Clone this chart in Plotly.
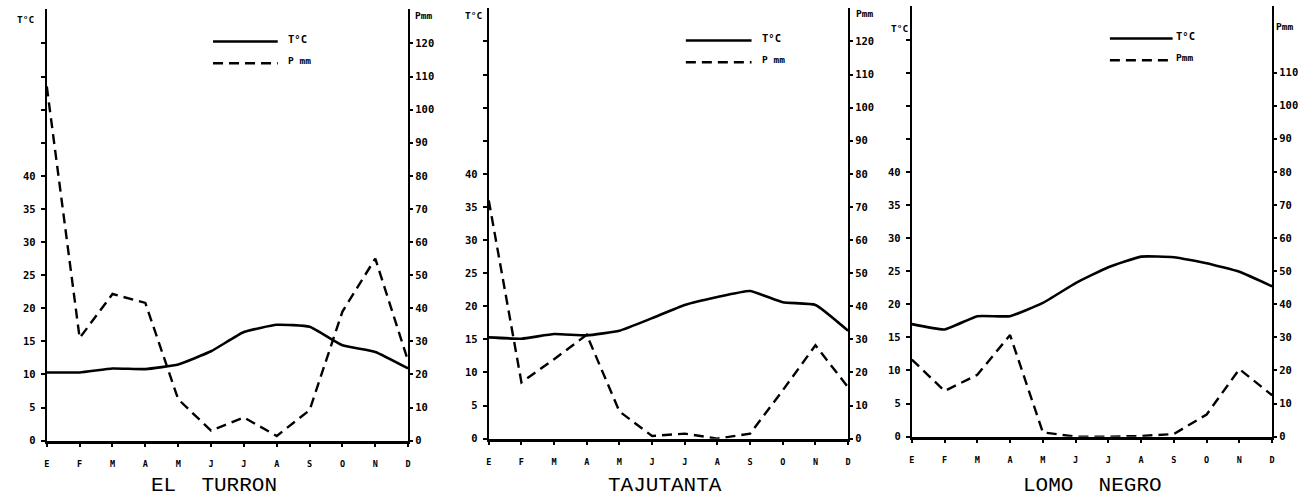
import plotly.graph_objects as go

W, H = 1309, 496

months = ["E", "F", "M", "A", "M", "J", "J", "A", "S", "O", "N", "D"]
stations = ["EL  TURRON", "TAJUTANTA", "LOMO  NEGRO"]

turron_temp = [10.3, 10.3, 10.9, 10.8, 11.5, 13.5, 16.4, 17.5, 17.2, 14.4, 13.4, 10.9]
turron_prec = [107, 31, 44.3, 41.6, 12.5, 3, 7, 1.4, 9.2, 39, 55, 24]

tajutanta_temp = [15.3, 15.1, 15.8, 15.6, 16.3, 18.2, 20.2, 21.4, 22.3, 20.6, 20.2, 16.3]
tajutanta_prec = [72, 17, 24, 31.4, 8.2, 0.8, 1.5, 0, 1.5, 14.6, 28.2, 15.5]

lomo_temp = [17.0, 16.2, 18.2, 18.2, 20.2, 23.2, 25.6, 27.2, 27.1, 26.2, 24.9, 22.7]
lomo_prec = [23.3, 13.8, 18.7, 30.7, 1.3, 0, 0, 0.2, 0.8, 6.7, 20.4, 12.5]

temps = [turron_temp, tajutanta_temp, lomo_temp]
precs = [turron_prec, tajutanta_prec, lomo_prec]

temp_ticks = [0, 5, 10, 15, 20, 25, 30, 35, 40, 45, 50, 55, 60]
temp_labels = ["0", "5", "10", "15", "20", "25", "30", "35", "40", "", "", "", ""]
prec_ticks_list = [list(range(0, 121, 10)), list(range(0, 121, 10)), list(range(0, 111, 10))]

# pixel geometry of each panel: left axis x, right axis x, zero y, top y
geom = [
    dict(xl=44, xr=407, y0=446, yt=9),
    dict(xl=488, xr=849, y0=444, yt=8),
    dict(xl=913, xr=1275, y0=442, yt=6),
]
px_per_deg = 6.7

title_cx = [212, 665, 1095]
tc_pos = [(23, 20), (473, 16), (901, 29)]
pmm_pos = [(412, 16), (855, 14), (1277, 27)]
leg = [
    dict(x0=211, x1=276, ys=42, yd=64, tx=284, lab="P mm"),
    dict(x0=686, x1=752, ys=41, yd=63, tx=760, lab="P mm"),
    dict(x0=1112, x1=1175, ys=39, yd=61, tx=1176, lab="Pmm"),
]


def fx(px):
    return px / W


def fy(py):
    return 1 - py / H


TICKFONT = dict(family="DejaVu Sans Mono", size=10.5, color="black", weight="bold")
MONTHFONT = dict(family="DejaVu Sans Mono", size=8.5, color="black", weight="bold")

fig = go.Figure()
layout = dict(
    width=W, height=H,
    margin=dict(l=0, r=0, t=0, b=0),
    paper_bgcolor="white", plot_bgcolor="white",
    showlegend=False,
)
annotations = []
shapes = []

for i in range(3):
    g = geom[i]
    n = i + 1
    xa = "x" if n == 1 else f"x{n}"
    ya = "y" if n == 1 else f"y{n}"
    yp = f"y{n + 3}"
    tmax = (g["y0"] - g["yt"]) / px_per_deg
    xs = list(range(12))

    fig.add_trace(go.Scatter(x=xs, y=temps[i], mode="lines", xaxis=xa, yaxis=ya,
                             line=dict(color="black", width=2.6, shape="spline", smoothing=0.4),
                             name="T°C", cliponaxis=False))
    fig.add_trace(go.Scatter(x=xs, y=precs[i], mode="lines", xaxis=xa, yaxis=yp,
                             line=dict(color="black", width=2.4, dash="10px,6px"),
                             name="P mm", cliponaxis=False))

    dom_x = [fx(g["xl"]), fx(g["xr"])]
    dom_y = [fy(g["y0"]), fy(g["yt"])]
    layout["xaxis" if n == 1 else f"xaxis{n}"] = dict(
        domain=dom_x, range=[0, 11], anchor=ya,
        tickvals=xs, ticktext=months, tickfont=MONTHFONT,
        ticks="outside", ticklen=4, tickwidth=1.5, tickcolor="black",
        ticklabelstandoff=9,
        showline=True, linecolor="black", linewidth=2.5,
        showgrid=False, zeroline=False, fixedrange=True,
    )
    layout["yaxis" if n == 1 else f"yaxis{n}"] = dict(
        domain=dom_y, range=[0, tmax], anchor=xa,
        tickvals=temp_ticks, ticktext=temp_labels, tickfont=TICKFONT,
        ticks="outside", ticklen=4, tickwidth=1.5, tickcolor="black",
        ticklabelstandoff=3,
        showline=True, linecolor="black", linewidth=2,
        showgrid=False, zeroline=False, fixedrange=True,
    )
    pt = prec_ticks_list[i]
    layout[f"yaxis{n + 3}"] = dict(
        overlaying=ya, side="right", anchor=xa,
        range=[0, 2 * tmax],
        tickvals=pt, ticktext=[str(v) for v in pt], tickfont=TICKFONT,
        ticks="outside", ticklen=3, tickwidth=1.5, tickcolor="black",
        ticklabelstandoff=0,
        showline=True, linecolor="black", linewidth=2,
        showgrid=False, zeroline=False, fixedrange=True,
    )

    # station title
    annotations.append(dict(text=stations[i], x=fx(title_cx[i]), y=fy(491), xref="paper", yref="paper",
                            showarrow=False, xanchor="center", yanchor="middle",
                            font=dict(family="Liberation Mono", size=21, color="black")))
    # axis titles
    annotations.append(dict(text="T°C", x=fx(tc_pos[i][0]), y=fy(tc_pos[i][1]), xref="paper", yref="paper",
                            showarrow=False, xanchor="center", yanchor="middle",
                            font=dict(family="DejaVu Sans Mono", size=9.5, color="black", weight="bold")))
    annotations.append(dict(text="Pmm", x=fx(pmm_pos[i][0]), y=fy(pmm_pos[i][1]), xref="paper", yref="paper",
                            showarrow=False, xanchor="left", yanchor="middle",
                            font=dict(family="DejaVu Sans Mono", size=9.5, color="black", weight="bold")))
    # legend
    L = leg[i]
    shapes.append(dict(type="line", xref="paper", yref="paper",
                       x0=fx(L["x0"]), x1=fx(L["x1"]), y0=fy(L["ys"]), y1=fy(L["ys"]),
                       line=dict(color="black", width=2.6)))
    shapes.append(dict(type="line", xref="paper", yref="paper",
                       x0=fx(L["x0"]), x1=fx(L["x1"]), y0=fy(L["yd"]), y1=fy(L["yd"]),
                       line=dict(color="black", width=2.6, dash="10px,6px")))
    annotations.append(dict(text="T°C", x=fx(L["tx"]), y=fy(L["ys"] - 3), xref="paper", yref="paper",
                            showarrow=False, xanchor="left", yanchor="middle",
                            font=dict(family="DejaVu Sans Mono", size=10.5, color="black", weight="bold")))
    annotations.append(dict(text=L["lab"], x=fx(L["tx"]), y=fy(L["yd"] - 3), xref="paper", yref="paper",
                            showarrow=False, xanchor="left", yanchor="middle",
                            font=dict(family="DejaVu Sans Mono", size=9.5, color="black", weight="bold")))

layout["annotations"] = annotations
layout["shapes"] = shapes
fig.update_layout(**layout)
fig.write_html("out.html")
